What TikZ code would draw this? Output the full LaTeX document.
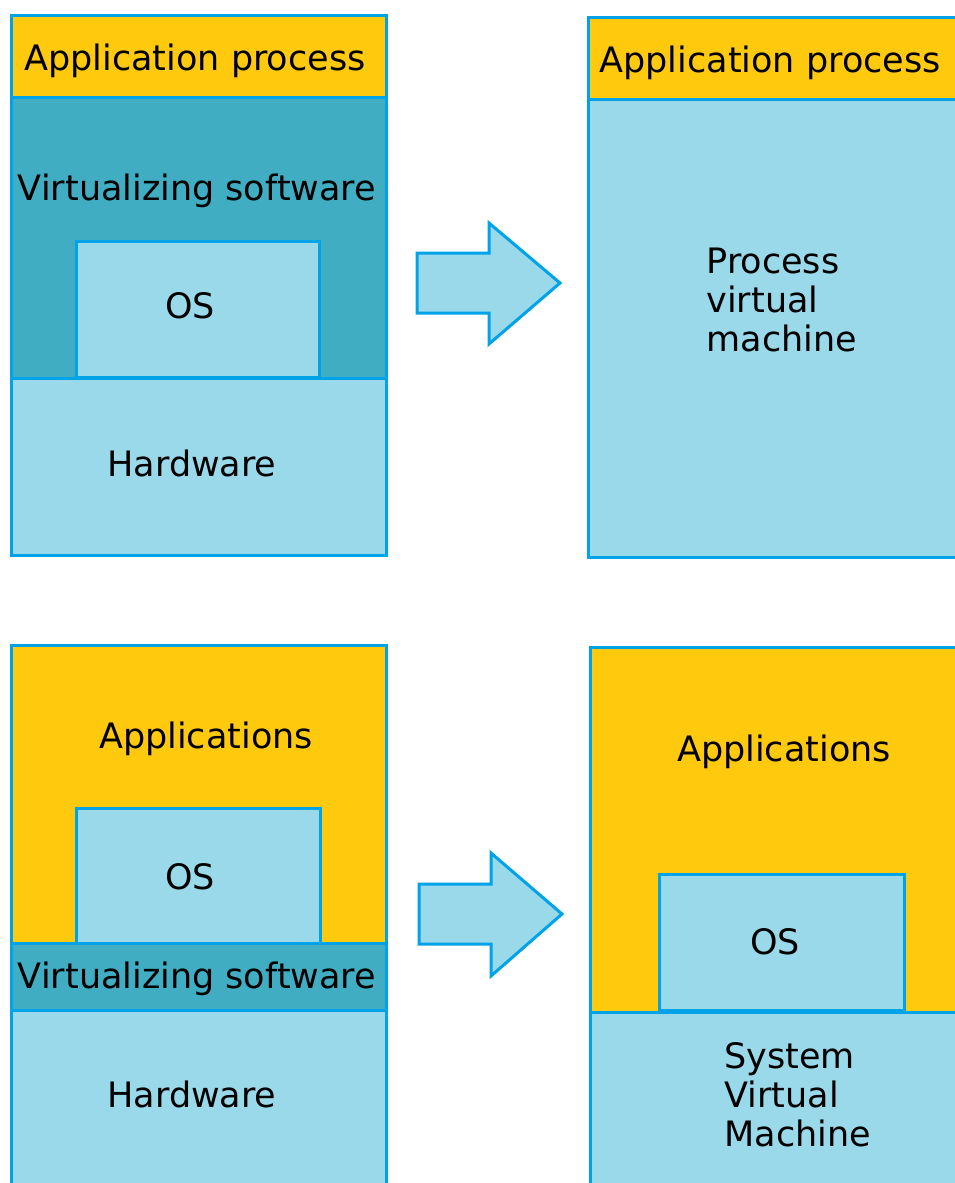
\documentclass[tikz,border=0pt]{standalone}
\usepackage{fontspec}
\setmainfont{DejaVu Sans}
\usepackage{tikz}
\definecolor{vm-gold}{RGB}{255,201,14}
\definecolor{vm-light}{RGB}{153,217,234}
\definecolor{vm-teal}{RGB}{65,173,194}
\definecolor{vm-edge}{RGB}{0,162,232}

\begin{document}
\begin{tikzpicture}[x=1pt, y=-1pt, line width=3pt,
  every node/.style={font=\fontsize{35}{39}\selectfont, inner sep=0pt},
  layer/.style={draw=vm-edge},
  bigarrow/.style={fill=vm-light, draw=vm-edge, line join=miter}]
  \clip (0,0) rectangle (955,1183);

  % Top left - process VM, before
  \draw[layer, fill=vm-gold] (11,15) rectangle (386,97);
  \draw[layer, fill=vm-teal] (11,97) rectangle (386,378);
  \draw[layer, fill=vm-light] (76,241) rectangle (319,377);
  \draw[layer, fill=vm-light] (11,378) rectangle (386,555);
  \node[anchor=base] (appTL) at (195,70) {Application process};
  \node[anchor=base] (virtTL) at (197,200) {Virtualizing software};
  \node[anchor=base] (osTL) at (190,318) {OS};
  \node[anchor=base] (hwTL) at (192,476) {Hardware};

  % Top arrow
  \draw[bigarrow] (417,253) -- (489,253) -- (489,223) -- (560,283)
    -- (489,344) -- (489,313) -- (417,313) -- cycle;

  % Top right - process VM, after
  \draw[layer, fill=vm-gold] (588,17) rectangle (975,99);
  \draw[layer, fill=vm-light] (588,99) rectangle (975,557);
  \node[anchor=base west] (appTR) at (598,72) {Application process};
  \node[anchor=base west, align=left] (pvm) at (705,351)
    {Process\\virtual\\machine};

  % Bottom left - system VM, before
  \draw[layer, fill=vm-gold] (11,645) rectangle (386,943);
  \draw[layer, fill=vm-light] (76,808) rectangle (320,943);
  \draw[layer, fill=vm-teal] (11,943) rectangle (386,1010);
  \draw[layer, fill=vm-light] (11,1010) rectangle (386,1200);
  \node[anchor=base] (appsBL) at (206,748) {Applications};
  \node[anchor=base] (osBL) at (190,889) {OS};
  \node[anchor=base] (virtBL) at (197,988) {Virtualizing software};
  \node[anchor=base] (hwBL) at (192,1107) {Hardware};

  % Bottom arrow
  \draw[bigarrow] (419,884) -- (491,884) -- (491,853) -- (562,914)
    -- (491,976) -- (491,944) -- (419,944) -- cycle;

  % Bottom right - system VM, after
  \draw[layer, fill=vm-gold] (590,647) rectangle (975,1012);
  \draw[layer, fill=vm-light] (659,874) rectangle (904,1010);
  \draw[layer, fill=vm-light] (590,1012) rectangle (975,1200);
  \node[anchor=base] (appsBR) at (784,761) {Applications};
  \node[anchor=base] (osBR) at (775,954) {OS};
  \node[anchor=base west, align=left] (svm) at (723,1146)
    {System\\Virtual\\Machine};
\end{tikzpicture}
\end{document}
